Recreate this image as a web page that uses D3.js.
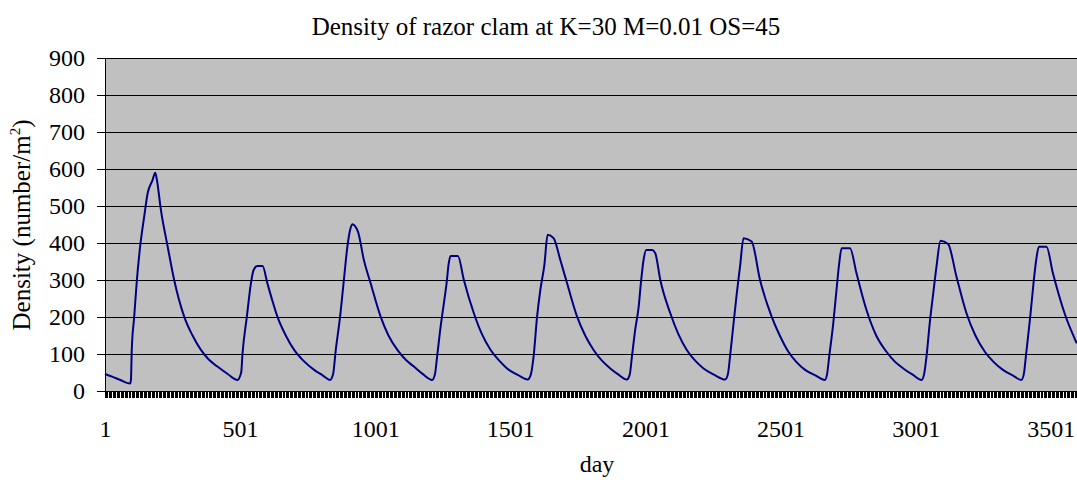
<!DOCTYPE html>
<html>
<head>
<meta charset="utf-8">
<script src="https://cdn.jsdelivr.net/npm/d3@7"></script>
<style>
  html, body { margin: 0; padding: 0; background: #fff; }
  svg { display: block; }
  text { font-family: "Liberation Serif", "Times New Roman", serif; fill: #000; }
</style>
</head>
<body>
<svg id="chart" width="1077" height="480"></svg>
<script>
// ---- data ----
const titleText = "Density of razor clam at K=30 M=0.01 OS=45";
const xAxisTitle = "day";
const yAxisTitle = "Density (number/m";
const yTickValues = [0, 100, 200, 300, 400, 500, 600, 700, 800, 900];
const xTickLabels = [1, 501, 1001, 1501, 2001, 2501, 3001, 3501];

const days = [
  1, 30, 60, 94, 97, 100, 109, 119, 131, 146, 159, 177, 187, 192, 208, 233, 257, 294, 325, 356, 385, 417, 455, 491,
  505, 510, 526, 541, 551, 565, 584, 602, 620, 639, 670, 701, 735, 775, 805, 834,
  845, 855, 871, 885, 898, 908, 916, 937, 959, 984, 1021, 1050, 1083, 1113, 1144, 1175, 1212,
  1222, 1230, 1243, 1255, 1265, 1273, 1280, 1307, 1329, 1366, 1395, 1428, 1460, 1489, 1530, 1565,
  1577, 1587, 1600, 1612, 1627, 1639, 1661, 1686, 1711, 1748, 1778, 1809, 1840, 1871, 1900, 1932,
  1943, 1951, 1963, 1976, 1984, 1994, 2004, 2025, 2037, 2056, 2093, 2122, 2154, 2185, 2216, 2255, 2296,
  2306, 2314, 2327, 2339, 2351, 2364, 2394, 2425, 2468, 2498, 2530, 2560, 2592, 2630, 2665,
  2673, 2681, 2696, 2708, 2718, 2727, 2758, 2782, 2819, 2855, 2893, 2923, 2955, 2990, 3023,
  3032, 3041, 3053, 3066, 3078, 3093, 3121, 3152, 3189, 3222, 3257, 3290, 3324, 3360, 3392,
  3401, 3410, 3425, 3437, 3447, 3457, 3485, 3509, 3552, 3597
];
const density = [
  46, 38, 29, 20, 30, 111, 200, 300, 390, 471, 535, 570, 590, 575, 489, 390, 300, 201, 150, 111, 85, 66, 46, 30,
  50, 102, 201, 291, 327, 338, 338, 291, 245, 201, 150, 111, 82, 57, 43, 30,
  45, 111, 201, 300, 390, 435, 451, 431, 354, 291, 201, 150, 111, 85, 66, 47, 30,
  45, 93, 174, 237, 291, 345, 365, 365, 300, 210, 155, 111, 82, 61, 43, 31,
  45, 93, 201, 273, 341, 422, 413, 354, 291, 201, 150, 111, 82, 61, 45, 31,
  45, 93, 165, 228, 291, 354, 381, 381, 373, 300, 210, 155, 111, 82, 61, 44, 31,
  45, 93, 183, 264, 336, 413, 404, 300, 201, 150, 106, 78, 57, 42, 30,
  45, 93, 183, 273, 345, 386, 386, 318, 219, 150, 106, 80, 61, 44, 30,
  45, 93, 183, 264, 336, 406, 397, 309, 210, 150, 106, 78, 57, 42, 30,
  45, 102, 201, 291, 354, 390, 390, 318, 210, 129
];

// ---- layout ----
const W = 1077, H = 480;
const plot = { left: 105, top: 58, right: 1077, bottom: 391 };

const svg = d3.select("#chart");

const x = d3.scaleLinear().domain([1, 3598]).range([plot.left, plot.right]);
const y = d3.scaleLinear().domain([0, 900]).range([plot.bottom, plot.top]);

// plot background
svg.append("rect")
  .attr("x", plot.left).attr("y", plot.top)
  .attr("width", plot.right - plot.left).attr("height", plot.bottom - plot.top)
  .attr("fill", "#c0c0c0");

// gridlines
svg.append("g")
  .attr("shape-rendering", "crispEdges")
  .selectAll("line")
  .data(yTickValues.filter(v => v > 0))
  .join("line")
  .attr("x1", plot.left).attr("x2", plot.right)
  .attr("y1", d => Math.round(y(d)) + 0.5).attr("y2", d => Math.round(y(d)) + 0.5)
  .attr("stroke", "#000").attr("stroke-width", 1);

// y axis
const yAxis = d3.axisLeft(y).tickValues(yTickValues).tickSize(8).tickPadding(12).tickFormat(d3.format("d"));
const gy = svg.append("g")
  .attr("transform", `translate(${plot.left},0)`)
  .attr("shape-rendering", "crispEdges")
  .call(yAxis);
gy.select(".domain").attr("stroke", "#000");
gy.selectAll(".tick line").attr("stroke", "#000");
gy.selectAll(".tick text")
  .attr("font-size", 24).attr("fill", "#000");

// dense category tick band below the x axis
const minorTicks = d3.range(1, 3598, 5);
const gx = svg.append("g")
  .attr("transform", `translate(0,${plot.bottom})`)
  .attr("shape-rendering", "crispEdges");
gx.selectAll("line.minor")
  .data(minorTicks)
  .join("line")
  .attr("class", "minor")
  .attr("x1", d => x(d)).attr("x2", d => x(d))
  .attr("y1", 0).attr("y2", 7)
  .attr("stroke", "#000").attr("stroke-width", 1);
gx.append("line")
  .attr("x1", plot.left).attr("x2", plot.right)
  .attr("y1", 0.5).attr("y2", 0.5)
  .attr("stroke", "#000");

// x tick labels via axis generator (no tick lines)
const xAxis = d3.axisBottom(x).tickValues(xTickLabels).tickSize(0).tickPadding(46).tickFormat(d3.format("d"));
const gxl = svg.append("g")
  .attr("transform", `translate(0,${plot.bottom})`)
  .call(xAxis);
gxl.select(".domain").remove();
gxl.selectAll(".tick text")
  .attr("font-size", 24).attr("fill", "#000")
  .attr("dy", "0");

// line
const line = d3.line()
  .x((d, i) => x(days[i]))
  .y((d, i) => y(density[i]))
  .curve(d3.curveMonotoneX);
svg.append("path")
  .datum(density)
  .attr("d", line)
  .attr("fill", "none")
  .attr("stroke", "#000080")
  .attr("stroke-width", 2)
  .attr("stroke-linejoin", "round");

// title
svg.append("text")
  .attr("x", 546).attr("y", 35)
  .attr("text-anchor", "middle")
  .attr("font-size", 25)
  .text(titleText);

// x axis title
svg.append("text")
  .attr("x", 597).attr("y", 472)
  .attr("text-anchor", "middle")
  .attr("font-size", 24)
  .text(xAxisTitle);

// y axis title
const yt = svg.append("text")
  .attr("transform", "translate(30,225) rotate(-90)")
  .attr("text-anchor", "middle")
  .attr("font-size", 25);
yt.append("tspan").text(yAxisTitle);
yt.append("tspan").attr("font-size", 15).attr("dy", -10).text("2");
yt.append("tspan").attr("dy", 10).text(")");
</script>
</body>
</html>
